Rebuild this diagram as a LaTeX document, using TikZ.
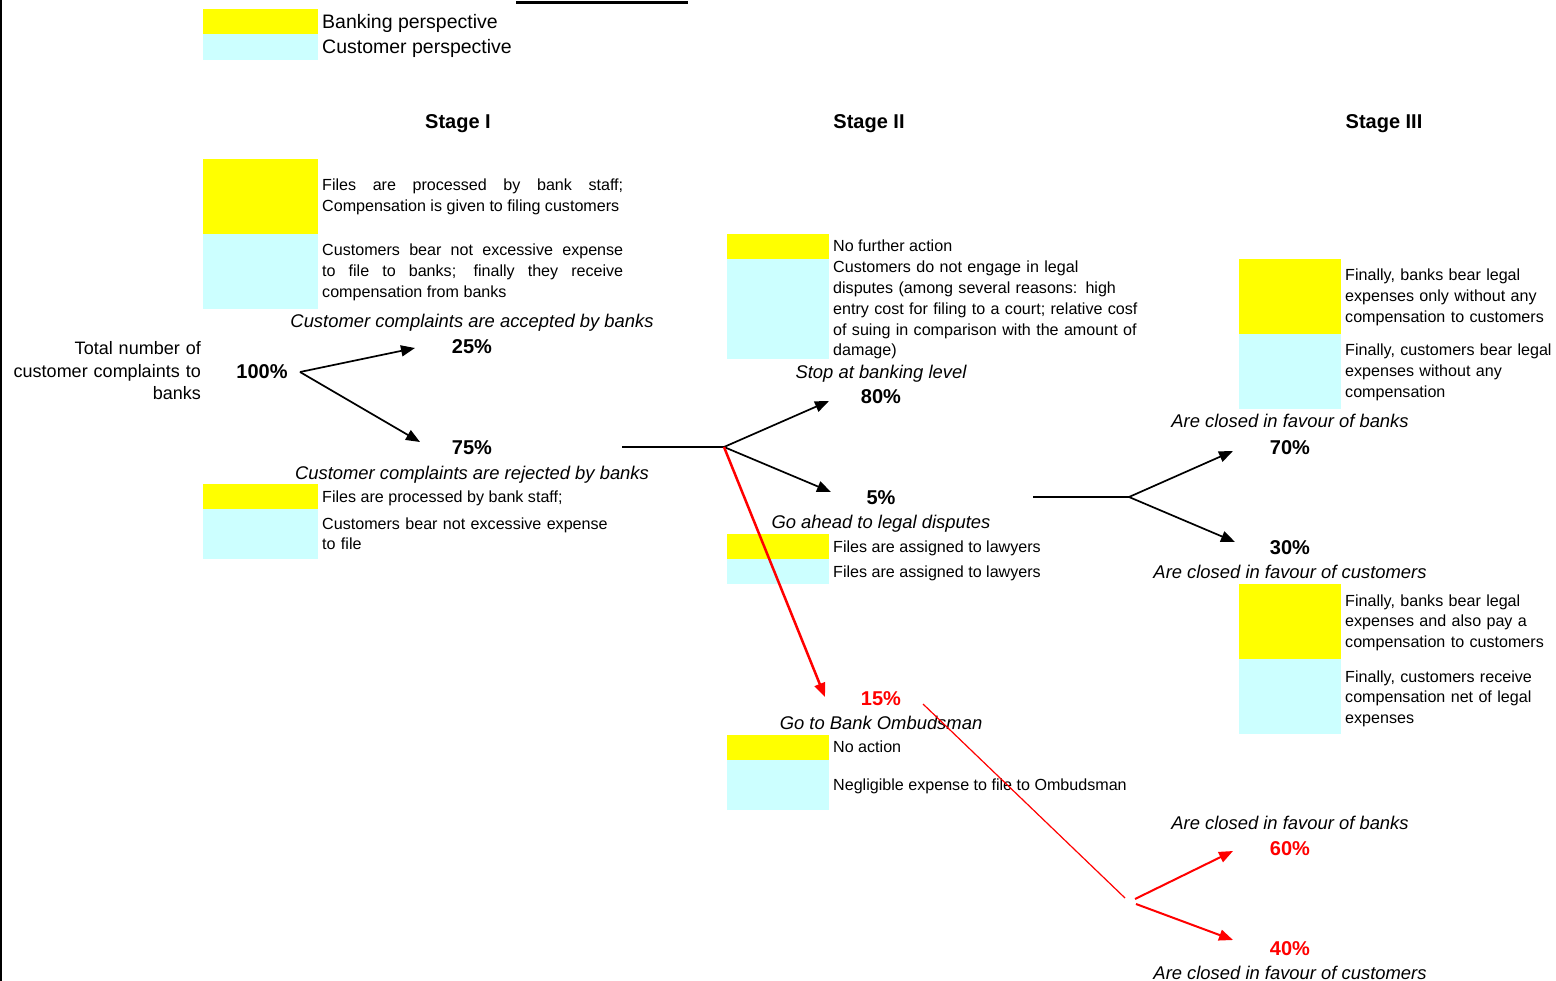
\documentclass[tikz,border=0pt]{standalone}
\usepackage{fontspec}
\setmainfont{Liberation Sans}
\usetikzlibrary{arrows.meta}
\definecolor{bankyellow}{RGB}{255,255,0}
\definecolor{custcyan}{RGB}{204,255,255}
\definecolor{ombred}{RGB}{255,0,0}
\def\perspbox(#1:#2:#3:#4:#5){\fill[bankyellow] (#1,#3) rectangle (#2,#4); \fill[custcyan] (#1,#4) rectangle (#2,#5);}
\tikzset{
	note/.style={inner sep=0pt, anchor=base west, font=\fontsize{16.1}{20.7}\selectfont},
	jnote/.style={note, text width=301pt, align=justify},
	lnote/.style={note, text width=320pt, align=left},
	legend/.style={inner sep=0pt, anchor=base west, font=\fontsize{19.5}{24}\selectfont},
	stage/.style={inner sep=0pt, anchor=base, font=\fontsize{20}{24}\selectfont\bfseries},
	case/.style={inner sep=0pt, anchor=base, font=\fontsize{18.4}{22}\selectfont\itshape},
	pct/.style={inner sep=0pt, anchor=base, font=\fontsize{20}{24}\selectfont\bfseries},
	total/.style={inner sep=0pt, anchor=base east, text width=200pt, align=right, font=\fontsize{18}{22.5}\selectfont},
	arr/.style={-{Triangle[length=14pt,width=11pt]}, line width=1.7pt},
	redarr/.style={arr, draw=ombred, line width=2pt}
}

\begin{document}
\begin{tikzpicture}[x=1pt,y=-1pt]
			%%%%% START %%%%%
			\useasboundingbox (0,0) rectangle (1556,981);
			\draw[line width=2pt] (1,0) -- (1,981);
			\draw[line width=3pt] (516,3) -- (688,3);
			
			% legend
			\perspbox(203:318:9:34:60)
			\node[legend] (leg1) at (322,29) {Banking perspective};
			\node[legend] (leg2) at (322,54) {Customer perspective};
			
			\node[stage] (st1) at (458,129) {Stage I};
			\node[stage] (st2) at (869,129) {Stage II};
			\node[stage] (st3) at (1384,129) {Stage III};
			
			% stage I
			\perspbox(203:318:159:234:309)
			\node[jnote] (s1bank) at (322,191) {Files are processed by bank staff;\linebreak Compensation is given to filing customers};
			\node[jnote] (s1cust) at (322,256) {Customers bear not excessive expense\linebreak to file to banks; finally they receive\linebreak compensation from banks};
			\node[case] (acc) at (472,328) {Customer complaints are accepted by banks};
			\node[pct] (p25) at (472,354) {25\%};
			\node[total] (tot) at (201,355) {Total number of\\customer complaints to\\banks};
			\node[pct] (p100) at (262,379) {100\%};
			\node[pct] (p75) at (472,454) {75\%};
			\node[case] (rej) at (472,479) {Customer complaints are rejected by banks};
			\perspbox(203:318:484:509:559)
			\node[note] (s1bank2) at (322,502) {Files are processed by bank staff;};
			\node[lnote] (s1cust2) at (322,529) {Customers bear not excessive expense\\to file};
			
			% stage II
			\perspbox(727:829:234:259:359)
			\node[note] (s2bank) at (833,252) {No further action};
			\node[lnote] (s2cust) at (833,273) {Customers do not engage in legal\\disputes (among several reasons: high\\entry cost for filing to a court; relative cosf\\of suing in comparison with the amount of\\damage)};
			\node[case] (stop) at (881,379) {Stop at banking level};
			\node[pct] (p80) at (881,404) {80\%};
			\node[pct] (p5) at (881,504) {5\%};
			\node[case] (legal) at (881,528) {Go ahead to legal disputes};
			\perspbox(727:829:534:559:584)
			\node[note] (s2bank2) at (833,552) {Files are assigned to lawyers};
			\node[note] (s2cust2) at (833,577) {Files are assigned to lawyers};
			\node[pct, text=ombred] (p15) at (881,705) {15\%};
			\node[case] (omb) at (881,729) {Go to Bank Ombudsman};
			\perspbox(727:829:735:760:810)
			\node[note] (s2bank3) at (833,752) {No action};
			\node[note] (s2cust3) at (833,790) {Negligible expense to file to Ombudsman};
			
			% stage III
			\perspbox(1239:1341:259:334:409)
			\node[lnote] (s3bank) at (1345,281) {Finally, banks bear legal\\expenses only without any\\compensation to customers};
			\node[lnote] (s3cust) at (1345,356) {Finally, customers bear legal\\expenses without any\\compensation};
			\node[case] (favb) at (1290,428) {Are closed in favour of banks};
			\node[pct] (p70) at (1290,454) {70\%};
			\node[pct] (p30) at (1290,554) {30\%};
			\node[case] (favc) at (1290,578) {Are closed in favour of customers};
			\perspbox(1239:1341:584:659:734)
			\node[lnote] (s3bank2) at (1345,606) {Finally, banks bear legal\\expenses and also pay a\\compensation to customers};
			\node[lnote] (s3cust2) at (1345,682) {Finally, customers receive\\compensation net of legal\\expenses};
			\node[case] (favb2) at (1290,829) {Are closed in favour of banks};
			\node[pct, text=ombred] (p60) at (1290,855) {60\%};
			\node[pct, text=ombred] (p40) at (1290,955) {40\%};
			\node[case] (favc2) at (1290,979) {Are closed in favour of customers};
			
			% branches
			\coordinate (b100) at (300,372);
			\coordinate (t25) at (415,348);
			\coordinate (t75) at (420,442);
			\coordinate (in2) at (622,447);
			\coordinate (b2) at (724,447);
			\coordinate (t80) at (829,401);
			\coordinate (t5) at (831,492);
			\coordinate (t15) at (825,697);
			\coordinate (in3) at (1033,497);
			\coordinate (b3) at (1129,497);
			\coordinate (t70) at (1233,451);
			\coordinate (t30) at (1235,542);
			\coordinate (r1) at (923,704);
			\coordinate (r2) at (1125,898);
			\coordinate (r3) at (1135,899);
			\coordinate (r4) at (1136,904);
			\coordinate (t60) at (1233,851);
			\coordinate (t40) at (1233,940);
			
			\draw[arr] (b100) -- (t25);
			\draw[arr] (b100) -- (t75);
			\draw[line width=1.2pt] (in2) -- (b2);
			\draw[arr] (b2) -- (t80);
			\draw[arr] (b2) -- (t5);
			\draw[redarr, line width=2.5pt] (b2) -- (t15);
			\draw[line width=1.2pt] (in3) -- (b3);
			\draw[arr] (b3) -- (t70);
			\draw[arr] (b3) -- (t30);
			\draw[ombred, line width=1.2pt] (r1) -- (r2);
			\draw[redarr] (r3) -- (t60);
			\draw[redarr] (r4) -- (t40);
			%%%%% END %%%%%
\end{tikzpicture}
\end{document}
